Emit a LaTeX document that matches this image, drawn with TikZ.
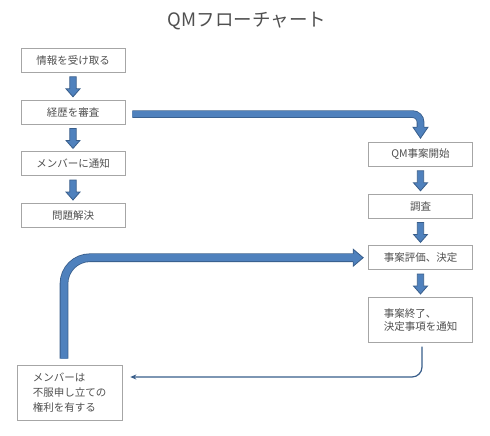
\documentclass[tikz,border=0pt]{standalone}
\usepackage{fontspec}
\setmainfont{Noto Sans CJK JP}
\usetikzlibrary{arrows.meta, positioning, calc}
\definecolor{qmFill}{HTML}{4F81BD}
\definecolor{qmEdge}{HTML}{385D8A}
\definecolor{qmBox}{HTML}{A6A6A6}
\definecolor{qmText}{HTML}{505050}

\begin{document}
\begin{tikzpicture}[x=1pt, y=-1pt,
  box/.style={draw=qmBox, fill=white, line width=0.6pt, align=center, text=qmText,
              font=\fontsize{10.5}{13.5}\selectfont, minimum width=104pt,
              minimum height=24pt, inner sep=0pt},
  blk/.style={fill=qmFill, draw=qmEdge, line width=0.8pt, line join=miter},
  shaft/.style={draw=qmEdge, line width=0.8pt, double=qmFill, double distance=#1},
  tip/.style={draw=qmEdge, line width=0.8pt, line join=miter},
  fbline/.style={draw=qmEdge, line width=1.2pt, -{Stealth[length=6pt, width=5pt]}}
]
  \useasboundingbox (0,0) rectangle (490,436);
  \node[text=qmText, font=\fontsize{18.5}{20}\selectfont] (title) at (247,21) {QMフローチャート};

  % left column
  \node[box] (info) at (73,60.5) {情報を受け取る};
  \node[box, below=27pt of info] (review) {経歴を審査};
  \node[box, below=27pt of review] (notify) {メンバーに通知};
  \node[box, below=27pt of notify] (solve) {問題解決};

  % right column
  \node[box] (open) at (420.5,154.5) {QM事案開始};
  \node[box, below=27pt of open] (survey) {調査};
  \node[box, below=27pt of survey] (judge) {事案評価、決定};
  \node[box, below=27pt of judge, minimum height=45pt, align=left] (close) {事案終了、\\決定事項を通知};

  \node[box, minimum width=105pt, minimum height=55pt, align=left,
        font=\fontsize{10.5}{15}\selectfont] (appeal) at (69.5,392.5) {メンバーは\\不服申し立ての\\権利を有する};

  % short block arrows
  \foreach \a/\b in {info/review, review/notify, notify/solve, open/survey, survey/judge, judge/close}
    \filldraw[blk] ($(\a.south)+(-3.2,4)$) -- ($(\a.south)+(3.2,4)$) -- ($(\b.north)+(3.2,-11)$)
      -- ($(\b.north)+(7,-11)$) -- ($(\b.north)+(0,-3)$) -- ($(\b.north)+(-7,-11)$)
      -- ($(\b.north)+(-3.2,-11)$) -- cycle;

  % review -> open
  \coordinate (hb1) at ($(open.north)+(0,-15)$);
  \draw[shaft=6pt, rounded corners=8pt] ($(review.east)+(7,2)$) -| ($(hb1)+(0,0.6)$);
  \fill[qmFill] ($(hb1)+(-7.5,0)$) -- ($(open.north)+(0,-4)$) -- ($(hb1)+(7.5,0)$) -- cycle;
  \draw[tip] ($(hb1)+(-3.4,0)$) -- ($(hb1)+(-7.5,0)$) -- ($(open.north)+(0,-4)$)
    -- ($(hb1)+(7.5,0)$) -- ($(hb1)+(3.4,0)$);

  % appeal -> judge
  \coordinate (hb2) at ($(judge.west)+(-15,0)$);
  \draw[shaft=7pt, rounded corners=26pt] ($(appeal.north)+(-5.5,-6)$) |- ($(hb2)+(0.6,0)$);
  \fill[qmFill] ($(hb2)+(0,-8.5)$) -- ($(judge.west)+(-5,0)$) -- ($(hb2)+(0,8.5)$) -- cycle;
  \draw[tip] ($(hb2)+(0,-3.9)$) -- ($(hb2)+(0,-8.5)$) -- ($(judge.west)+(-5,0)$)
    -- ($(hb2)+(0,8.5)$) -- ($(hb2)+(0,3.9)$);

  % close -> appeal
  \draw[fbline, rounded corners=10pt] ($(close.south)+(1.5,4)$) |- ($(appeal.east)+(8,-15.5)$);
\end{tikzpicture}
\end{document}
